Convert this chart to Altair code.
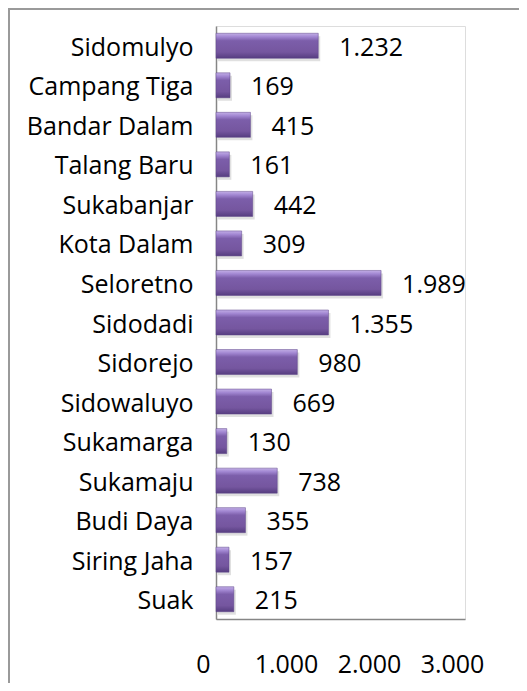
import altair as alt
import pandas as pd

categories = ["Sidomulyo", "Campang Tiga", "Bandar Dalam", "Talang Baru", "Sukabanjar",
              "Kota Dalam", "Seloretno", "Sidodadi", "Sidorejo", "Sidowaluyo",
              "Sukamarga", "Sukamaju", "Budi Daya", "Siring Jaha", "Suak"]
values = [1232, 169, 415, 161, 442, 309, 1989, 1355, 980, 669, 130, 738, 355, 157, 215]
x_ticks = [0, 1000, 2000, 3000]

df = pd.DataFrame({"desa": categories, "jumlah": values})

FONT = "Open Sans"
FS = 25

ysc = alt.Y("desa:N", sort=categories, title=None,
            scale=alt.Scale(paddingInner=0.37, paddingOuter=0.185),
            axis=alt.Axis(labelFont=FONT, labelFontSize=FS, labelColor="#000000",
                          labelPadding=23, labelOffset=2, ticks=False,
                          domainColor="#868686", domainWidth=1.5, grid=False,
                          labelLimit=300))
xsc = alt.X("jumlah:Q", title=None,
            scale=alt.Scale(domain=[0, 3000], nice=False),
            axis=alt.Axis(values=x_ticks, labelFont=FONT, labelFontSize=FS,
                          labelColor="#000000", labelPadding=33, labelOffset=-13,
                          ticks=False, grid=False, domainColor="#868686",
                          domainWidth=1.5, labelFlush=False,
                          labelExpr="replace(format(datum.value, ','), ',', '.')"))

base = alt.Chart(df)

shadow = base.mark_bar(size=25, color="#000000", opacity=0.12, yOffset=3, xOffset=2).encode(
    x=xsc, y=ysc)

grad = alt.Gradient(
    gradient="linear", x1=0, x2=0, y1=0, y2=1,
    stops=[alt.GradientStop(color="#c2aee6", offset=0),
           alt.GradientStop(color="#a287d2", offset=0.14),
           alt.GradientStop(color="#7c5eaa", offset=0.3),
           alt.GradientStop(color="#75569f", offset=0.75),
           alt.GradientStop(color="#563d80", offset=1)])

bars = base.mark_bar(size=25, color=grad, stroke="#5d4488", strokeWidth=0.5).encode(
    x=xsc, y=ysc)

labels = base.transform_calculate(
    lbl="replace(format(datum.jumlah, ','), ',', '.')"
).mark_text(align="left", baseline="middle", dx=21, dy=2, font=FONT,
            fontSize=FS, color="#000000").encode(
    x=alt.X("jumlah:Q"), y=alt.Y("desa:N", sort=categories), text="lbl:N")

# decorative frame: grey edges
frame_top = alt.Chart(df).mark_rule(color="#9a9a9a", strokeWidth=2).encode(
    x=alt.value(-208), x2=alt.value(320), y=alt.value(-17))
frame_left = alt.Chart(df).mark_rule(color="#9a9a9a", strokeWidth=2).encode(
    x=alt.value(-207), y=alt.value(-18), y2=alt.value(700))

chart = alt.layer(shadow, bars, labels, frame_top, frame_left).properties(
    width=249, height=593,
    padding={"left": 208, "top": 18, "right": 54, "bottom": 64},
    autosize=alt.AutoSizeParams(type="none"),
).configure_view(stroke=None).configure(background="#ffffff")

chart.save("out.html", embed_options={"renderer": "svg", "actions": False})
